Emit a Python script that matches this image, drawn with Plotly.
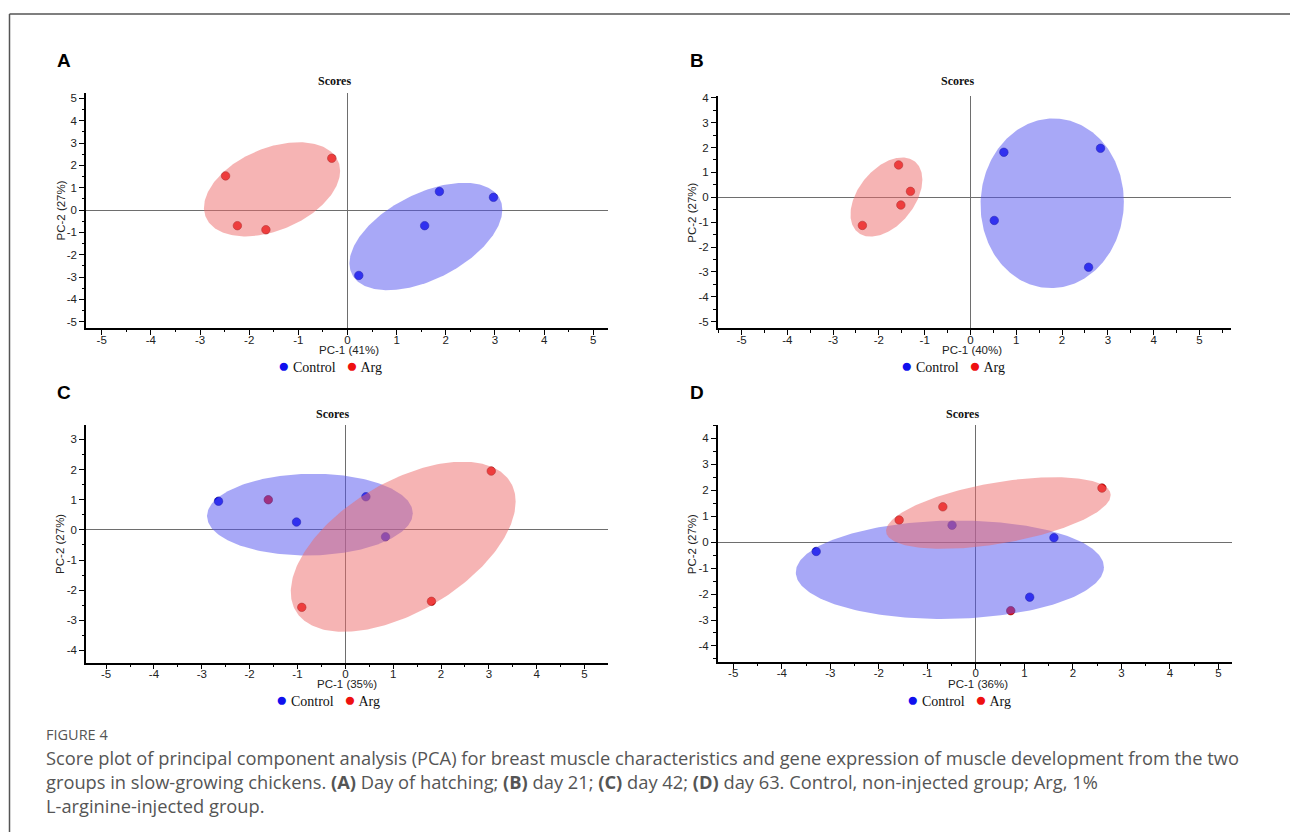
import numpy as np
import plotly.graph_objects as go

# ---------------- data ----------------
panel_letters = ["A", "B", "C", "D"]
pc1_labels = ["PC-1 (41%)", "PC-1 (40%)", "PC-1 (35%)", "PC-1 (36%)"]
pc2_labels = ["PC-2 (27%)", "PC-2 (27%)", "PC-2 (27%)", "PC-2 (27%)"]
group_names = ["Control", "Arg"]

ctrl_x_A = [1.87, 2.97, 1.57, 0.23]
ctrl_y_A = [0.83, 0.57, -0.70, -2.93]
arg_x_A = [-2.48, -0.32, -2.24, -1.66]
arg_y_A = [1.53, 2.32, -0.70, -0.88]

ctrl_x_B = [0.73, 2.84, 0.52, 2.58]
ctrl_y_B = [1.81, 1.97, -0.93, -2.81]
arg_x_B = [-1.57, -1.31, -1.52, -2.36]
arg_y_B = [1.30, 0.24, -0.31, -1.13]

ctrl_x_C = [-2.65, -1.02, 0.43, 0.84]
ctrl_y_C = [0.95, 0.26, 1.10, -0.23]
arg_x_C = [-1.61, 3.05, 1.80, -0.91]
arg_y_C = [1.00, 1.95, -2.37, -2.57]

ctrl_x_D = [-3.29, 1.61, 1.11, -0.49]
ctrl_y_D = [-0.36, 0.17, -2.12, 0.65]
arg_x_D = [-1.58, -0.68, 2.60, 0.72]
arg_y_D = [0.85, 1.36, 2.08, -2.64]

# confidence ellipses: centre x, centre y, half-extent x, half-extent y, phase (deg) giving the tilt
ell_ctrl_A = [1.595, -1.185, 1.555, 2.405, 60]
ell_arg_A = [-1.535, 0.93, 1.385, 2.11, 67]
ell_ctrl_B = [1.785, -0.24, 1.565, 3.41, 89]
ell_arg_B = [-1.835, 0.01, 0.785, 1.59, 64]
ell_ctrl_C = [-0.74, 0.505, 2.15, 1.355, 88]
ell_arg_C = [1.21, -0.56, 2.35, 2.82, 58]
ell_ctrl_D = [-0.535, -1.065, 3.175, 1.895, 87]
ell_arg_D = [0.465, 1.12, 2.315, 1.38, 60]

x_ranges = [[-5.32, 5.30], [-5.52, 5.69], [-5.42, 5.49], [-5.32, 5.28]]
y_ranges = [[-5.29, 5.25], [-5.27, 4.09], [-4.40, 3.47], [-4.61, 4.50]]

x_tick_vals = [-5, -4, -3, -2, -1, 0, 1, 2, 3, 4, 5]
x_tick_text = ["-5", "-4", "-3", "-2", "-1", "0", "1", "2", "3", "4", "5"]
y_tick_vals = [
    [-5, -4, -3, -2, -1, 0, 1, 2, 3, 4, 5],
    [-5, -4, -3, -2, -1, 0, 1, 2, 3, 4],
    [-4, -3, -2, -1, 0, 1, 2, 3],
    [-4, -3, -2, -1, 0, 1, 2, 3, 4],
]
y_tick_text = [
    ["-5", "-4", "-3", "-2", "-1", "0", "1", "2", "3", "4", "5"],
    ["-5", "-4", "-3", "-2", "-1", "0", "1", "2", "3", "4"],
    ["-4", "-3", "-2", "-1", "0", "1", "2", "3"],
    ["-4", "-3", "-2", "-1", "0", "1", "2", "3", "4"],
]

caption_head = "FIGURE 4"
caption_lines = [
    "Score plot of principal component analysis (PCA) for breast muscle characteristics and gene expression of muscle development from the two",
    "groups in slow-growing chickens. <b>(A)</b> Day of hatching; <b>(B)</b> day 21; <b>(C)</b> day 42; <b>(D)</b> day 63. Control, non-injected group; Arg, 1%",
    "L-arginine-injected group.",
]

# ---------------- layout geometry (pixels) ----------------
W, H = 1290, 832
panel_px = [  # left, right, top, bottom of plotting area
    (86, 608, 89.3, 325.7),
    (717.7, 1231, 92, 326),
    (86, 608, 423.3, 661.7),
    (717.7, 1232, 423.3, 661),
]
scores_y = [77.5, 77.5, 411.5, 411.5]


def px_x(p):
    return p / W


def px_y(p):
    return 1 - p / H


CTRL_COL = "#1010ee"
ARG_COL = "#ee1010"
CTRL_FILL = "rgba(82,82,240,0.50)"
ARG_FILL = "rgba(238,106,106,0.50)"

panels = [
    (ctrl_x_A, ctrl_y_A, arg_x_A, arg_y_A, ell_ctrl_A, ell_arg_A),
    (ctrl_x_B, ctrl_y_B, arg_x_B, arg_y_B, ell_ctrl_B, ell_arg_B),
    (ctrl_x_C, ctrl_y_C, arg_x_C, arg_y_C, ell_ctrl_C, ell_arg_C),
    (ctrl_x_D, ctrl_y_D, arg_x_D, arg_y_D, ell_ctrl_D, ell_arg_D),
]


def ellipse(params, n=240):
    cx, cy, rx, ry, deg = params
    t = np.linspace(0, 2 * np.pi, n)
    d = np.deg2rad(deg)
    return cx + rx * np.cos(t), cy + ry * np.cos(t - d)


fig = go.Figure()
annotations = []
layout = {}

tick_font = dict(family="Liberation Sans, Arial, sans-serif", size=11.5, color="#222")
sans = "Liberation Sans, Arial, sans-serif"
serif = "Liberation Serif, Times New Roman, serif"

for i, (cx_, cy_, ax_, ay_, ec, ea) in enumerate(panels):
    sfx = "" if i == 0 else str(i + 1)
    xa, ya = "x" + sfx, "y" + sfx
    fig.add_trace(go.Scatter(x=cx_, y=cy_, mode="markers", name=group_names[0], showlegend=False,
                             marker=dict(color=CTRL_COL, size=8.5, line=dict(width=0.6, color="#00007a")),
                             xaxis=xa, yaxis=ya))
    fig.add_trace(go.Scatter(x=ax_, y=ay_, mode="markers", name=group_names[1], showlegend=False,
                             marker=dict(color=ARG_COL, size=8.5, line=dict(width=0.6, color="#7a0000")),
                             xaxis=xa, yaxis=ya))
    exx, eyy = ellipse(ec)
    fig.add_trace(go.Scatter(x=exx, y=eyy, mode="lines", fill="toself", fillcolor=CTRL_FILL,
                             line=dict(width=0, color=CTRL_FILL), showlegend=False, hoverinfo="skip",
                             xaxis=xa, yaxis=ya))
    exx, eyy = ellipse(ea)
    fig.add_trace(go.Scatter(x=exx, y=eyy, mode="lines", fill="toself", fillcolor=ARG_FILL,
                             line=dict(width=0, color=ARG_FILL), showlegend=False, hoverinfo="skip",
                             xaxis=xa, yaxis=ya))

    l, r, t, b = panel_px[i]
    axis_common = dict(showline=True, linecolor="#000", linewidth=1.5, ticks="outside", ticklen=5,
                       tickwidth=1, tickcolor="#000", showgrid=False, zeroline=True,
                       zerolinecolor="#6e6e6e", zerolinewidth=1.2, tickmode="array",
                       tickfont=tick_font, fixedrange=True,
                       minor=dict(ticks="outside", ticklen=2.5, tickcolor="#000", tickwidth=1,
                                  tickmode="linear", dtick=0.5, tick0=0))
    layout["xaxis" + sfx] = dict(axis_common, domain=[px_x(l), px_x(r)], range=x_ranges[i],
                                 tickvals=x_tick_vals, ticktext=x_tick_text,
                                 anchor=ya, ticklabelstandoff=-5)
    layout["yaxis" + sfx] = dict(axis_common, domain=[px_y(b), px_y(t)], range=y_ranges[i],
                                 tickvals=y_tick_vals[i], ticktext=y_tick_text[i],
                                 anchor=xa, ticklabelstandoff=0)

    zero_px = l + (0 - x_ranges[i][0]) / (x_ranges[i][1] - x_ranges[i][0]) * (r - l)
    # "Scores" title
    annotations.append(dict(text="<b>Scores</b>", x=px_x(zero_px - 13), y=px_y(scores_y[i]),
                            xref="paper", yref="paper", showarrow=False, xanchor="center", yanchor="middle",
                            font=dict(family=serif, size=12, color="#111")))
    # axis titles
    annotations.append(dict(text=pc1_labels[i], x=px_x(zero_px + 2), y=px_y(b + 22),
                            xref="paper", yref="paper", showarrow=False, xanchor="center", yanchor="middle",
                            font=dict(family=sans, size=11.5, color="#222")))
    annotations.append(dict(text=pc2_labels[i], x=px_x(l - 25.5), y=px_y((t + b) / 2 + 0.5),
                            xref="paper", yref="paper", showarrow=False, xanchor="center", yanchor="middle",
                            textangle=-90, font=dict(family=sans, size=11.5, color="#222")))
    # key under each panel
    key = ("<span style='color:%s;font-size:19px'>\u25CF</span> %s &nbsp;&nbsp;"
           "<span style='color:%s;font-size:19px'>\u25CF</span> %s"
           % (CTRL_COL, group_names[0], ARG_COL, group_names[1]))
    annotations.append(dict(text=key, x=px_x(zero_px - 17), y=px_y(b + 37.5),
                            xref="paper", yref="paper", showarrow=False, xanchor="center", yanchor="middle",
                            font=dict(family=serif, size=14, color="#111")))
    # panel letter
    letter_x = 55 if i in (0, 2) else 688
    letter_y = 57 if i < 2 else 390.5
    annotations.append(dict(text="<b>%s</b>" % panel_letters[i], x=px_x(letter_x), y=px_y(letter_y),
                            xref="paper", yref="paper", showarrow=False, xanchor="left", yanchor="middle",
                            font=dict(family=sans, size=19, color="#000")))

# caption
annotations.append(dict(text=caption_head, x=px_x(44), y=px_y(734), xref="paper", yref="paper",
                        showarrow=False, xanchor="left", yanchor="middle",
                        font=dict(family="Open Sans, sans-serif", size=14.5, color="#555")))
for k, line in enumerate(caption_lines):
    annotations.append(dict(text=line, x=px_x(44), y=px_y(757 + 24 * k), xref="paper", yref="paper",
                            showarrow=False, xanchor="left", yanchor="middle",
                            font=dict(family="Open Sans, sans-serif", size=18.3, color="#555")))

shapes = [
    dict(type="line", xref="paper", yref="paper", x0=px_x(9.5), x1=px_x(9.5), y0=px_y(10), y1=0,
         line=dict(color="#555", width=1.5)),
    dict(type="line", xref="paper", yref="paper", x0=px_x(9.5), x1=1, y0=px_y(10), y1=px_y(10),
         line=dict(color="#555", width=1.5)),
]

fig.update_layout(width=W, height=H, margin=dict(l=0, r=0, t=0, b=0), paper_bgcolor="white",
                  plot_bgcolor="white", annotations=annotations, shapes=shapes, showlegend=False,
                  **layout)

fig.write_html("out.html", config={"displayModeBar": False})
